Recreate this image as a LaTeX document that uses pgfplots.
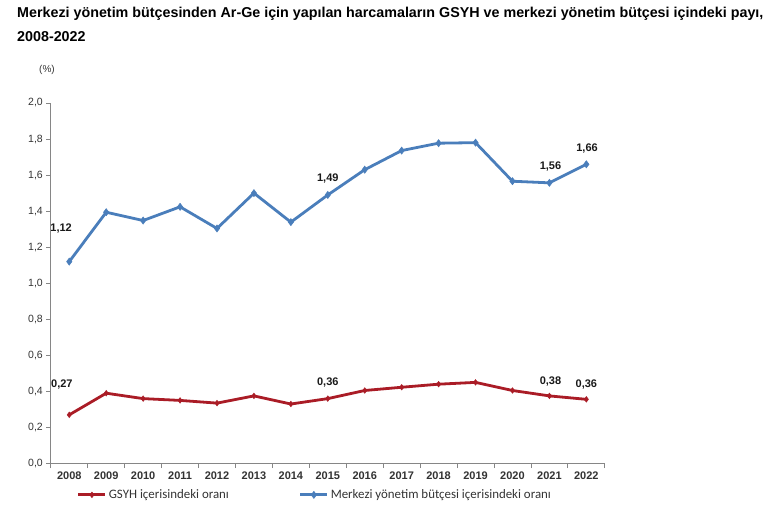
\documentclass[border=0pt]{standalone}
\usepackage{fontspec}
\setmainfont{Liberation Sans}
\newfontfamily\legfont{Carlito}
\usepackage{pgfplots}
\pgfplotsset{compat=1.18}

\definecolor{mavi}{RGB}{74,126,187}
\definecolor{kirmizi}{RGB}{170,28,38}
\definecolor{eksen}{RGB}{134,134,134}
\definecolor{yazi}{RGB}{51,51,51}

\begin{document}
\begin{tikzpicture}
\useasboundingbox (0,0) rectangle (770pt,519pt);

% title
\node[anchor=north west, align=left, inner sep=0pt,
      font=\bfseries\fontsize{14.3}{24}\selectfont] at (17pt,512pt)
  {Merkezi yönetim bütçesinden Ar-Ge için yapılan harcamaların GSYH ve merkezi yönetim bütçesi içindeki payı,\\2008-2022};

\node[font=\fontsize{10}{12}\selectfont, text=yazi] at (47pt,449pt) {(\%)};

\begin{axis}[
    at={(50.8pt,55.5pt)}, anchor=south west,
    scale only axis, width=554pt, height=360.5pt,
    xmin=2007.5, xmax=2022.5, ymin=0, ymax=2,
    axis x line*=bottom, axis y line*=left,
    axis line style={eksen, line width=1pt},
    xtick={2007.5,2008.5,...,2022.5},
    xticklabels={},
    extra x ticks={2008,2009,2010,2011,2012,2013,2014,2015,2016,2017,2018,2019,2020,2021,2022},
    extra x tick labels={2008,2009,2010,2011,2012,2013,2014,2015,2016,2017,2018,2019,2020,2021,2022},
    extra x tick style={tick style={draw=none}},
    ytick={0,0.2,...,2.01},
    tick style={eksen, line width=0.8pt},
    major tick length=4.5pt,
    tick align=outside,
    /pgf/number format/assume math mode=true,
    xticklabel style={font=\bfseries\fontsize{11}{13}\selectfont, text=yazi},
    yticklabel style={font=\fontsize{10.5}{12}\selectfont, text=yazi,
        /pgf/number format/.cd, use comma, fixed, fixed zerofill, precision=1},
    clip=false,
    legend style={at={(0.047,-0.087)}, anchor=west, draw=none, fill=none,
        inner sep=0pt, legend columns=2,
        font=\legfont\fontsize{12.9}{14}\selectfont, text=yazi,
        /tikz/every even column/.append style={column sep=68pt}},
    legend cell align=left,
    legend image code/.code={
        \draw[#1, mark=none] (0pt,0pt) -- (27pt,0pt);
        \draw[#1, only marks] plot coordinates {(13.5pt,0pt)};
    },
]
% GSYH icerisindeki orani
\addplot[kirmizi, line width=2.8pt, mark=diamond*, mark size=2.8pt,
         mark options={solid, line width=0.5pt}] coordinates {
    (2008,0.27) (2009,0.39) (2010,0.36) (2011,0.35) (2012,0.335)
    (2013,0.375) (2014,0.33) (2015,0.36) (2016,0.405) (2017,0.423)
    (2018,0.44) (2019,0.45) (2020,0.405) (2021,0.375) (2022,0.356)
};
\addlegendentry{GSYH içerisindeki oranı}
% Merkezi yonetim butcesi icerisindeki orani
\addplot[mavi, line width=2.8pt, mark=diamond*, mark size=3.6pt,
         mark options={solid, line width=0.5pt}] coordinates {
    (2008,1.12) (2009,1.394) (2010,1.348) (2011,1.424) (2012,1.304)
    (2013,1.50) (2014,1.339) (2015,1.49) (2016,1.63) (2017,1.736)
    (2018,1.777) (2019,1.78) (2020,1.566) (2021,1.557) (2022,1.66)
};
\addlegendentry{Merkezi yönetim bütçesi içerisindeki oranı}

% value labels
\begin{scope}[every node/.style={font=\bfseries\fontsize{11}{13}\selectfont, text=black!90}]
\node at (axis cs:2007.78,1.302) {1,12};
\node at (axis cs:2015,1.579) {1,49};
\node at (axis cs:2021.03,1.645) {1,56};
\node at (axis cs:2022.02,1.745) {1,66};
\node at (axis cs:2007.8,0.438) {0,27};
\node at (axis cs:2015,0.449) {0,36};
\node at (axis cs:2021.03,0.454) {0,38};
\node at (axis cs:2022,0.438) {0,36};
\end{scope}
\end{axis}
\end{tikzpicture}
\end{document}
